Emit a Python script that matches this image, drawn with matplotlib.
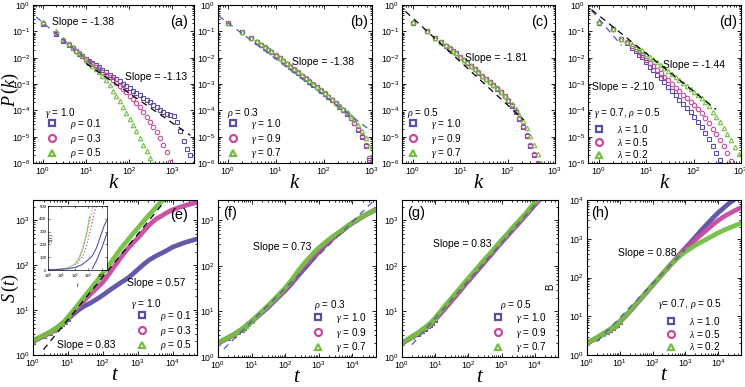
import numpy as np
import matplotlib
matplotlib.use("Agg")
import matplotlib.pyplot as plt
from matplotlib.lines import Line2D
from matplotlib.ticker import LogLocator, NullFormatter

plt.rcParams['font.family'] = ['Liberation Sans', 'DejaVu Sans']
plt.rcParams['mathtext.fontset'] = 'custom'
plt.rcParams['mathtext.rm'] = 'Liberation Serif'
plt.rcParams['mathtext.it'] = 'Liberation Serif:italic'
plt.rcParams['mathtext.bf'] = 'Liberation Serif:bold'

PURPLE = '#5c4fa3'
MAGENTA = '#c44a9e'
GREEN = '#74be44'
BLUE_DASH = '#4a5d9e'

# ---- degree distribution P(k), values are log10 P ----
K = [1, 2, 3, 4, 5, 6, 7, 8, 10, 12, 14, 17, 20, 24, 29, 35, 42, 50, 60, 72, 86, 103,
     123, 147, 176, 211, 252, 302, 361, 432, 517, 619, 741, 887, 1062, 1271, 1521,
     1821, 2180, 2610]

a_rho01 = [-0.72, -1.10, -1.35, -1.52, -1.65, -1.76, -1.85, -1.93, -2.04, -2.13, -2.20,
           -2.29, -2.37, -2.46, -2.55, -2.64, -2.73, -2.81, -2.90, -2.99, -3.08, -3.17,
           -3.26, -3.34, -3.43, -3.52, -3.61, -3.70, -3.79, -3.88, -3.97, -4.06, -4.13,
           -4.17, -4.22, -4.45, -4.80, -5.15, -5.45, -5.70]
a_rho03 = [-0.70, -1.06, -1.32, -1.50, -1.63, -1.74, -1.84, -1.92, -2.06, -2.16, -2.24,
           -2.35, -2.44, -2.54, -2.64, -2.75, -2.86, -2.97, -3.08, -3.20, -3.32, -3.45,
           -3.58, -3.72, -3.87, -4.08, -4.26, -4.45, -4.64, -4.84, -5.04, -5.30, -5.60,
           -5.95]
a_rho05 = [-0.65, -1.00, -1.28, -1.47, -1.61, -1.73, -1.83, -1.91, -2.08, -2.20, -2.30,
           -2.44, -2.56, -2.70, -2.85, -3.05, -3.25, -3.45, -3.66, -3.88, -4.10, -4.33,
           -4.56, -4.80, -5.04, -5.30, -5.55, -5.82, -6.05]

b_g10 = [-0.70, -1.04, -1.27, -1.40, -1.52, -1.62, -1.70, -1.78, -1.92, -2.03, -2.12,
         -2.24, -2.34, -2.45, -2.57, -2.69, -2.80, -2.91, -3.02, -3.13, -3.25, -3.37,
         -3.50, -3.62, -3.74, -3.86, -3.98, -4.13, -4.30, -4.50, -4.75, -5.00, -5.35,
         -5.90]
b_g09 = [-0.69, -1.03, -1.26, -1.40, -1.51, -1.61, -1.70, -1.78, -1.91, -2.02, -2.11,
         -2.23, -2.33, -2.44, -2.56, -2.68, -2.79, -2.90, -3.01, -3.12, -3.24, -3.36,
         -3.49, -3.61, -3.73, -3.85, -3.97, -4.12, -4.28, -4.47, -4.70, -4.97, -5.30,
         -5.80]
b_g07 = [-0.68, -1.02, -1.25, -1.38, -1.50, -1.60, -1.68, -1.76, -1.89, -2.00, -2.09,
         -2.21, -2.31, -2.42, -2.54, -2.66, -2.77, -2.88, -2.99, -3.10, -3.22, -3.34,
         -3.46, -3.58, -3.71, -3.83, -3.95, -4.08, -4.22, -4.38, -4.57, -4.80, -5.05,
         -5.35, -5.65]

c_g10 = [-0.67, -1.00, -1.25, -1.42, -1.55, -1.66, -1.76, -1.84, -1.99, -2.10, -2.20,
         -2.33, -2.44, -2.57, -2.70, -2.82, -2.93, -3.05, -3.18, -3.32, -3.47, -3.63,
         -3.82, -4.05, -4.32, -4.65, -4.98, -5.35, -5.70, -6.05]
c_g09 = [-0.67, -1.00, -1.25, -1.41, -1.54, -1.65, -1.75, -1.83, -1.98, -2.09, -2.19,
         -2.32, -2.43, -2.56, -2.69, -2.81, -2.92, -3.04, -3.17, -3.31, -3.46, -3.62,
         -3.80, -4.03, -4.28, -4.60, -4.93, -5.30, -5.65, -6.00]
c_g07 = [-0.66, -0.99, -1.24, -1.40, -1.53, -1.64, -1.74, -1.82, -1.97, -2.08, -2.18,
         -2.31, -2.42, -2.55, -2.68, -2.80, -2.91, -3.03, -3.16, -3.29, -3.44, -3.60,
         -3.76, -3.95, -4.16, -4.40, -4.67, -4.97, -5.30, -5.65, -6.00]

d_l10 = [-0.67, -0.92, -1.30, -1.45, -1.62, -1.76, -1.88, -1.99, -2.18, -2.34, -2.47,
         -2.64, -2.78, -2.94, -3.10, -3.27, -3.43, -3.59, -3.75, -3.92, -4.08, -4.26,
         -4.45, -4.65, -4.87, -5.10, -5.35, -5.62, -5.90, -6.10]
d_l05 = [-0.67, -0.92, -1.28, -1.42, -1.56, -1.68, -1.79, -1.88, -2.08, -2.21, -2.32,
         -2.47, -2.59, -2.72, -2.86, -3.00, -3.14, -3.27, -3.41, -3.54, -3.67, -3.80,
         -3.95, -4.12, -4.30, -4.49, -4.70, -4.91, -5.13, -5.37, -5.62, -5.92]
d_l02 = [-0.65, -0.92, -1.28, -1.40, -1.50, -1.58, -1.66, -1.72, -1.85, -1.96, -2.05,
         -2.17, -2.27, -2.38, -2.50, -2.61, -2.73, -2.84, -2.95, -3.07, -3.18, -3.30,
         -3.42, -3.55, -3.68, -3.82, -4.05, -4.25, -4.45, -4.66, -4.88, -5.12, -5.38,
         -5.65, -6.00]

# ---- growth S(t), values are log10 S ----
T = [1, 2, 3, 4, 5, 6, 7, 8, 10, 14, 20, 30, 45, 70, 100, 150, 220, 330, 500, 700,
     1000, 1500, 2200, 3300, 5000, 7000, 10000, 15000, 22000, 33000, 50000]

e_rho01 = [0.30, 0.42, 0.49, 0.55, 0.60, 0.65, 0.69, 0.73, 0.80, 0.90, 1.00, 1.09, 1.16,
           1.25, 1.33, 1.43, 1.52, 1.61, 1.70, 1.79, 1.90, 2.02, 2.12, 2.20, 2.27, 2.33,
           2.40, 2.45, 2.50, 2.54, 2.58]
e_rho03 = [0.31, 0.43, 0.50, 0.56, 0.61, 0.66, 0.70, 0.74, 0.82, 0.95, 1.08, 1.22, 1.36,
           1.50, 1.62, 1.80, 1.98, 2.17, 2.35, 2.48, 2.60, 2.76, 2.90, 3.02, 3.10, 3.17,
           3.23, 3.28, 3.32, 3.36, 3.39]
e_rho05 = [0.32, 0.44, 0.51, 0.57, 0.62, 0.67, 0.71, 0.75, 0.84, 0.98, 1.13, 1.30, 1.47,
           1.66, 1.82, 2.00, 2.18, 2.37, 2.54, 2.68, 2.82, 2.98, 3.13, 3.28, 3.43, 3.56,
           3.70]

f_g10 = [0.30, 0.42, 0.49, 0.55, 0.60, 0.64, 0.68, 0.72, 0.78, 0.87, 0.97, 1.08, 1.21,
         1.35, 1.46, 1.60, 1.75, 1.90, 2.05, 2.18, 2.31, 2.44, 2.56, 2.67, 2.77, 2.86,
         2.94, 3.02, 3.10, 3.17, 3.24]
f_g09 = [0.30, 0.42, 0.49, 0.55, 0.60, 0.64, 0.68, 0.72, 0.78, 0.88, 0.98, 1.10, 1.23,
         1.37, 1.48, 1.63, 1.79, 1.95, 2.10, 2.22, 2.34, 2.46, 2.57, 2.68, 2.78, 2.87,
         2.95, 3.03, 3.10, 3.17, 3.24]
f_g07 = [0.31, 0.43, 0.50, 0.56, 0.61, 0.65, 0.69, 0.73, 0.79, 0.89, 1.00, 1.12, 1.25,
         1.40, 1.52, 1.68, 1.85, 2.02, 2.17, 2.29, 2.40, 2.51, 2.61, 2.70, 2.79, 2.87,
         2.95, 3.03, 3.10, 3.17, 3.23]

g_g10 = [0.30, 0.43, 0.51, 0.57, 0.62, 0.67, 0.71, 0.75, 0.82, 0.94, 1.07, 1.22, 1.37,
         1.54, 1.67, 1.82, 1.96, 2.11, 2.26, 2.39, 2.52, 2.66, 2.80, 2.94, 3.09, 3.21,
         3.34, 3.48]
g_g09 = [0.30, 0.44, 0.52, 0.58, 0.63, 0.68, 0.72, 0.76, 0.83, 0.95, 1.08, 1.23, 1.38,
         1.55, 1.68, 1.83, 1.97, 2.12, 2.27, 2.40, 2.53, 2.67, 2.81, 2.95, 3.10, 3.22,
         3.35, 3.49]
g_g07 = [0.31, 0.45, 0.53, 0.60, 0.65, 0.70, 0.74, 0.78, 0.86, 0.99, 1.13, 1.28, 1.43,
         1.60, 1.73, 1.88, 2.02, 2.17, 2.31, 2.44, 2.57, 2.71, 2.85, 2.99, 3.13, 3.26,
         3.39, 3.52]

h_l10 = [0.30, 0.44, 0.53, 0.60, 0.65, 0.70, 0.74, 0.78, 0.86, 0.98, 1.12, 1.29, 1.46,
         1.65, 1.80, 1.97, 2.13, 2.30, 2.47, 2.61, 2.76, 2.92, 3.08, 3.25, 3.41, 3.54,
         3.67, 3.80, 3.92, 4.03, 4.14]
h_l05 = [0.30, 0.44, 0.53, 0.60, 0.65, 0.70, 0.74, 0.78, 0.86, 0.98, 1.12, 1.29, 1.46,
         1.65, 1.80, 1.97, 2.13, 2.30, 2.46, 2.60, 2.73, 2.87, 3.00, 3.13, 3.26, 3.37,
         3.47, 3.57, 3.65, 3.73, 3.80]
h_l02 = [0.31, 0.45, 0.54, 0.61, 0.66, 0.71, 0.75, 0.79, 0.87, 0.99, 1.13, 1.30, 1.47,
         1.66, 1.81, 1.97, 2.13, 2.30, 2.45, 2.56, 2.66, 2.76, 2.85, 2.93, 3.01, 3.08,
         3.15, 3.22, 3.28, 3.34, 3.40]

# inset of (e): S(t) on linear scale, x = log10 t
ins_green_x = [0, 0.5, 1.0, 1.5, 2.0, 2.3, 2.6, 2.9, 3.1]
ins_green_y = [2, 4, 8, 18, 45, 90, 170, 300, 420]
ins_greendot_x = [2.0, 2.4, 2.7, 3.0, 3.2, 3.35]
ins_greendot_y = [40, 110, 200, 330, 430, 500]
ins_magdot_x = [2.2, 2.6, 2.9, 3.2, 3.5, 3.62]
ins_magdot_y = [50, 110, 200, 330, 470, 500]
ins_purple_x = [0, 1.0, 1.5, 2.0, 2.5, 3.0, 3.3, 3.6, 3.9, 4.2, 4.4]
ins_purple_y = [2, 5, 10, 20, 40, 80, 110, 170, 260, 350, 390]
ins_purple2_x = [3.3, 3.6, 4.0, 4.3, 4.5]
ins_purple2_y = [10, 70, 170, 260, 320]

# fitted guide lines: (slope, intercept in log10, x range, colour)
fits_top = {
    'a': [(-1.38, -0.67, (0.7, 30), BLUE_DASH), (-1.13, -1.09, (10, 2600), 'black')],
    'b': [(-1.38, -0.67, (0.65, 800), BLUE_DASH)],
    'c': [(-1.65, -0.50, (0.7, 220), 'black')],
    'd': [(-2.10, -0.53, (0.7, 3), BLUE_DASH), (-1.44, -0.40, (0.7, 300), 'black')],
}
fits_bot = {
    'e': [(0.95, -0.165, (2, 8000), 'black')],
    'f': [(0.73, 0.05, (1.5, 50000), BLUE_DASH)],
    'g': [(0.83, 0.02, (2, 20000), BLUE_DASH)],
    'h': [(0.88, 0.08, (2, 1000), BLUE_DASH)],
}

W, H = 745, 387
fig = plt.figure(figsize=(W / 100, H / 100), dpi=100)


def add_ax(x0, x1, y0, y1):
    return fig.add_axes([x0 / W, 1 - y1 / H, (x1 - x0) / W, (y1 - y0) / H])


def style_ax(ax):
    ax.set_xscale('log')
    ax.set_yscale('log')
    ax.tick_params(which='both', direction='in', top=True, right=True, labelsize=6.3,
                   width=0.6, pad=2)
    ax.tick_params(which='major', length=3)
    ax.tick_params(which='minor', length=1.5)
    for s in ax.spines.values():
        s.set_linewidth(0.8)


def draw_fits(ax, fits):
    for slope, icpt, (lo, hi), col in fits:
        xs = np.array([lo, hi])
        ax.plot(xs, 10 ** (icpt + slope * np.log10(xs)), ls=(0, (5, 4)), lw=0.9,
                color=col, zorder=5)


def add_legend(ax, title, title_xy, labels, loc, anchor):
    hs = [Line2D([], [], ls='none', marker=m, mfc='none', mec=c, ms=5, mew=1.6)
          for m, c in zip(['s', 'o', '^'], [PURPLE, MAGENTA, GREEN])]
    ax.legend(hs, labels, loc=loc, bbox_to_anchor=anchor,
              frameon=False, fontsize=7.2, handlelength=1.0, handletextpad=1.3,
              labelspacing=0.08, borderpad=0.1, borderaxespad=0.15)
    ax.text(title_xy[0], title_xy[1], title, transform=ax.transAxes, ha='left',
            va='center', fontsize=7.2)


top_boxes = [(33, 194), (218, 372), (402, 555), (588, 741)]
top_xlim = [(0.59, 3160), (0.63, 1000), (0.59, 1000), (0.59, 1000)]
top_series = [(a_rho01, a_rho03, a_rho05), (b_g10, b_g09, b_g07),
              (c_g10, c_g09, c_g07), (d_l10, d_l05, d_l02)]
top_titles = [r'$\gamma$ = 1.0', r'$\rho$ = 0.3', r'$\rho$ = 0.5',
              r'$\gamma$ = 0.7, $\rho$ = 0.5']
top_title_xy = [(0.075, 0.315), (0.058, 0.315), (0.033, 0.315), (0.04, 0.315)]
top_leg_x = [0.07, 0.05, 0.025, 0.025]
top_labels = [[r'$\rho$ = 0.1', r'$\rho$ = 0.3', r'$\rho$ = 0.5'],
              [r'$\gamma$ = 1.0', r'$\gamma$ = 0.9', r'$\gamma$ = 0.7'],
              [r'$\gamma$ = 1.0', r'$\gamma$ = 0.9', r'$\gamma$ = 0.7'],
              [r'$\lambda$ = 1.0', r'$\lambda$ = 0.5', r'$\lambda$ = 0.2']]
top_tags = ['a', 'b', 'c', 'd']
top_tag_pos = [0.963, 0.974, 0.954, 0.974]
top_slopes = [[('Slope = -1.38', 0.118, 0.892), ('Slope = -1.13', 0.571, 0.544)],
              [('Slope = -1.38', 0.48, 0.639)],
              [('Slope = -1.81', 0.41, 0.665)],
              [('Slope = -1.44', 0.49, 0.62), ('Slope = -2.10', 0.026, 0.48)]]

for i in range(4):
    ax = add_ax(top_boxes[i][0], top_boxes[i][1], 5, 163)
    style_ax(ax)
    for ys, m, c in zip(top_series[i], ['s', 'o', '^'], [PURPLE, MAGENTA, GREEN]):
        ax.plot(K[:len(ys)], 10 ** np.array(ys), ls='none', marker=m, mfc='none',
                mec=c, ms=3.2, mew=0.8)
    draw_fits(ax, fits_top[top_tags[i]])
    ax.set_xlim(*top_xlim[i])
    ax.set_ylim(1e-6, 1)
    ax.set_yticks([10.0 ** p for p in range(-6, 1)])
    ax.yaxis.set_minor_locator(LogLocator(base=10, subs=np.arange(2, 10), numticks=30))
    ax.yaxis.set_minor_formatter(NullFormatter())
    ax.set_xlabel('$k$', fontsize=15, labelpad=-3)
    ax.text(top_tag_pos[i], 0.89, '(%s)' % top_tags[i], transform=ax.transAxes,
            ha='right', va='center', fontsize=10.5)
    for txt, x, y in top_slopes[i]:
        ax.text(x, y, txt, transform=ax.transAxes, ha='left', va='center', fontsize=7.5)
    add_legend(ax, top_titles[i], top_title_xy[i], top_labels[i], 'lower left',
               (top_leg_x[i], 0.0))

fig.text(10 / W, 1 - 90 / H, '$P\\,(k)$', rotation=90, ha='center', va='center',
         fontsize=13)

bot_boxes = [(33, 197, 355), (218, 376, 357), (402, 558, 357), (587, 741, 355)]
bot_series = [(e_rho01, e_rho03, e_rho05), (f_g10, f_g09, f_g07),
              (g_g10, g_g09, g_g07), (h_l10, h_l05, h_l02)]
bot_titles = [r'$\gamma$ = 1.0', r'$\rho$ = 0.3', r'$\rho$ = 0.5',
              r'$\gamma$= 0.7, $\rho$ = 0.5']
bot_title_xy = [(0.60, 0.33), (0.61, 0.33), (0.63, 0.33), (0.46, 0.33)]
bot_leg_x = [0.985, 0.955, 0.945, 0.885]
bot_labels = [[r'$\rho$ = 0.1', r'$\rho$ = 0.3', r'$\rho$ = 0.5'],
              [r'$\gamma$ = 1.0', r'$\gamma$ = 0.9', r'$\gamma$ = 0.7'],
              [r'$\gamma$ = 1.0', r'$\gamma$ = 0.9', r'$\gamma$ = 0.7'],
              [r'$\lambda$ = 1.0', r'$\lambda$ = 0.5', r'$\lambda$ = 0.2']]
bot_tags = ['e', 'f', 'g', 'h']
bot_ylim = [(1, 2800), (1, 2800), (1, 2800), (1, 1e4)]
bot_slopes = [[('Slope = 0.57', 0.573, 0.465), ('Slope = 0.83', 0.146, 0.065)],
              [('Slope = 0.73', 0.22, 0.70)],
              [('Slope = 0.83', 0.20, 0.72)],
              [('Slope = 0.88', 0.20, 0.66)]]

for i in range(4):
    x0, x1, yb = bot_boxes[i]
    ax = add_ax(x0, x1, 200, yb)
    style_ax(ax)
    for ys, m, c in zip(bot_series[i], ['s', 'o', '^'], [PURPLE, MAGENTA, GREEN]):
        ax.plot(T[:len(ys)], 10 ** np.array(ys), color=c, lw=3.4, solid_capstyle='round',
                alpha=0.95)
        ax.plot(T[:9], 10 ** np.array(ys[:9]), ls='none', marker=m, mfc='none', mec=c,
                ms=2.8, mew=0.8)
    draw_fits(ax, fits_bot[bot_tags[i]])
    ax.set_xlim(1, 5e4)
    ax.set_ylim(*bot_ylim[i])
    ax.set_xticks([10.0 ** p for p in range(0, 5)])
    ax.xaxis.set_minor_locator(LogLocator(base=10, subs=np.arange(2, 10), numticks=30))
    ax.xaxis.set_minor_formatter(NullFormatter())
    ax.set_xlabel('$t$', fontsize=15, labelpad=-3)
    if i == 0:
        ax.text(0.945, 0.9, '(e)', transform=ax.transAxes, ha='right', va='center',
                fontsize=10.5)
    else:
        ax.text(0.03, 0.915, '(%s)' % bot_tags[i], transform=ax.transAxes, ha='left',
                va='center', fontsize=10.5)
    for txt, x, y in bot_slopes[i]:
        ax.text(x, y, txt, transform=ax.transAxes, ha='left', va='center', fontsize=7.5)
    add_legend(ax, bot_titles[i], bot_title_xy[i], bot_labels[i], 'lower right',
               (bot_leg_x[i], 0.0))
    if i == 2:
        ax.text(0.95, 0.45, 'B', transform=ax.transAxes, rotation=90, ha='center',
                va='center', fontsize=7)

fig.text(10 / W, 1 - 288 / H, '$S\\,(t)$', rotation=90, ha='center', va='center',
         fontsize=13)

# inset in (e)
ins = fig.add_axes([48 / W, 1 - 270 / H, 59 / W, 64 / H])
ins.plot(10 ** np.array(ins_green_x), ins_green_y, color='#9fbf88', lw=0.8)
ins.plot(10 ** np.array(ins_purple_x), ins_purple_y, color=PURPLE, lw=0.8)
ins.plot(10 ** np.array(ins_purple2_x), ins_purple2_y, color=PURPLE, lw=0.8)
ins.plot(10 ** np.array(ins_greendot_x), ins_greendot_y, color=GREEN, lw=0.9, ls=':')
ins.plot(10 ** np.array(ins_magdot_x), ins_magdot_y, color=MAGENTA, lw=0.9, ls=':')
ins.set_xscale('log')
ins.set_xlim(1, 2.5e4)
ins.set_ylim(0, 500)
ins.set_xticks([10.0 ** p for p in range(0, 5)])
ins.set_yticks(range(0, 501, 100))
ins.tick_params(which='both', direction='in', labelsize=3.2, length=1.5, width=0.4,
                pad=1, top=True, right=True)
ins.tick_params(which='minor', length=0.8)
for s in ins.spines.values():
    s.set_linewidth(0.5)
ins.set_ylabel('$S(t)$', fontsize=4, labelpad=-12)
ins.set_xlabel('$t$', fontsize=4.5, labelpad=0)

fig.savefig('out.png', dpi=100)
